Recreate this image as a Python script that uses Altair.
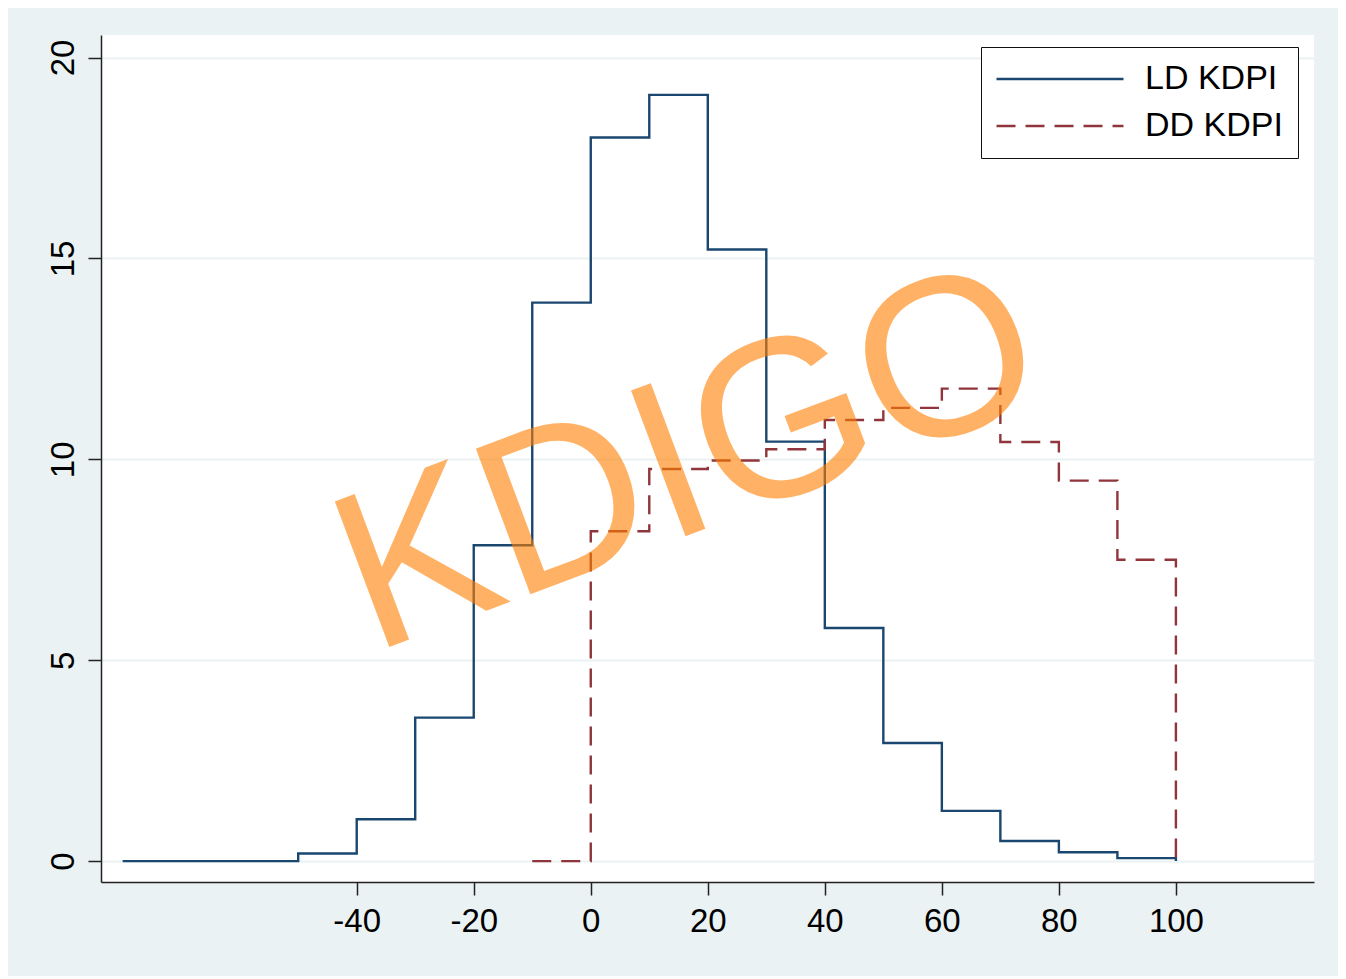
import altair as alt
import pandas as pd

# Bin starts (KDPI) and densities (step plot, bins of width 10)
ld_x = [-80, -50, -40, -30, -20, -10, 0, 10, 20, 30, 40, 50, 60, 70, 80, 90, 100]
ld_y = [0, 0.19, 1.04, 3.57, 7.86, 13.9, 18.01, 19.07, 15.22, 10.44, 5.8, 2.94, 1.25, 0.5, 0.22, 0.075, 0]

dd_x = [-10, 0, 10, 20, 30, 40, 50, 60, 70, 80, 90, 100]
dd_y = [0, 8.21, 9.76, 9.97, 10.25, 10.98, 11.28, 11.76, 10.43, 9.47, 7.5, 0]

series_names = ["LD KDPI", "DD KDPI"]
x_ticks = [-40, -20, 0, 20, 40, 60, 80, 100]
y_ticks = [0, 5, 10, 15, 20]
watermark = ["KDIGO"]

rows = []
for xv, yv in zip(ld_x, ld_y):
    rows.append({"x": xv, "y": yv, "series": series_names[0]})
for xv, yv in zip(dd_x, dd_y):
    rows.append({"x": xv, "y": yv, "series": series_names[1]})
df = pd.DataFrame(rows)

FONT = "Liberation Sans"

xscale = alt.Scale(domain=[-83.7, 123.6], nice=False, zero=False)
yscale = alt.Scale(domain=[-0.52, 20.56], nice=False, zero=False)

lines = alt.Chart(df).mark_line(interpolate="step-after", strokeWidth=2.4).encode(
    x=alt.X("x:Q", scale=xscale, title=None,
            axis=alt.Axis(values=x_ticks, grid=False, labelFontSize=33, labelFont=FONT,
                          labelColor="#000", tickSize=13, tickWidth=1.5, tickColor="#222",
                          domainColor="#222", domainWidth=1.5, labelPadding=10,
                          labelExpr="'' + datum.value",
                          labelFlush=False, labelOverlap=False)),
    y=alt.Y("y:Q", scale=yscale, title=None,
            axis=alt.Axis(values=y_ticks, grid=True, gridColor="#EAF2F3", gridWidth=2,
                          labelFontSize=33, labelFont=FONT, labelColor="#000",
                          labelAngle=270, labelAlign="center", labelBaseline="bottom",
                          tickSize=13, tickWidth=1.5, tickColor="#222",
                          domainColor="#222", domainWidth=1.5, labelPadding=8,
                          labelExpr="'' + datum.value",
                          labelFlush=False, labelOverlap=False)),
    color=alt.Color("series:N", sort=series_names,
                    scale=alt.Scale(domain=series_names, range=["#1A476F", "#90353B"]),
                    legend=alt.Legend(title=None, orient="none", legendX=880, legendY=12,
                                      symbolType="M-5,0H5", symbolSize=645,
                                      symbolOffset=47,
                                      symbolStrokeWidth=2.4, labelFontSize=34,
                                      labelFont=FONT, labelColor="#000", labelOffset=68,
                                      padding=15, rowPadding=13,
                                      strokeColor="#111", fillColor="white")),
    strokeDash=alt.StrokeDash("series:N", sort=series_names,
                              scale=alt.Scale(domain=series_names, range=[[1, 0], [19, 10]]),
                              legend=None),
)

wm_df = pd.DataFrame({"label": watermark})
wm = alt.Chart(wm_df).mark_text(
    font=FONT, fontSize=226, angle=339.5, color="#FF8000", opacity=0.6,
    align="center", baseline="alphabetic"
).encode(text="label:N", x=alt.value(612), y=alt.value(491))

chart = alt.layer(lines, wm).properties(
    width=1213, height=847,
    padding={"left": 93, "top": 27, "right": 24, "bottom": 94},
    autosize="none",
    background="#EAF2F3",
).configure_view(fill="white", stroke=None)

chart.save("out.html", embed_options={"renderer": "svg", "actions": False})
